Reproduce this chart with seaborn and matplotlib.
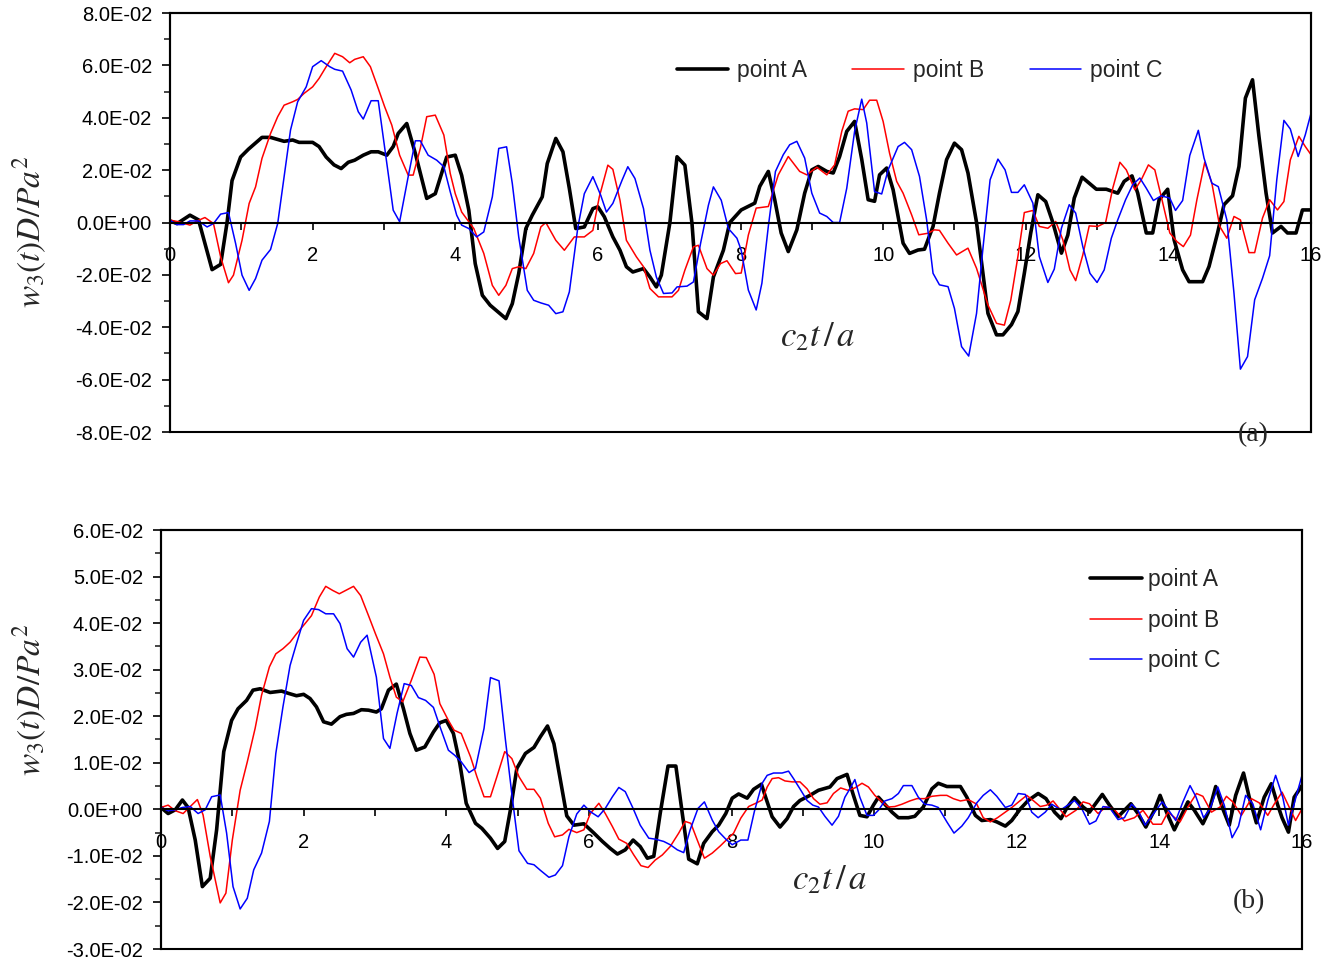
import numpy as np
import pandas as pd
import matplotlib
matplotlib.use("Agg")
import matplotlib.pyplot as plt
from matplotlib.ticker import MultipleLocator, FuncFormatter
from matplotlib.patches import Rectangle
from matplotlib.lines import Line2D
import seaborn as sns

# ---------------- data: (c2 t / a, w3(t) D / P a^2) ----------------
# Panel (a)
a_point_A = [
    (0, 0.0006), (0.1, -0.0004), (0.28, 0.0028), (0.4, 0.0010), (0.59, -0.0180), (0.71, -0.0160),
    (0.8, 0.0000), (0.87, 0.0160), (0.99, 0.0250), (1.1, 0.0280), (1.29, 0.0325), (1.41, 0.0325),
    (1.6, 0.0310), (1.72, 0.0315), (1.81, 0.0306), (2.0, 0.0306), (2.09, 0.0290), (2.19, 0.0250),
    (2.3, 0.0220), (2.4, 0.0206), (2.5, 0.0230), (2.59, 0.0238), (2.71, 0.0257), (2.82, 0.0270),
    (2.92, 0.0270), (3.04, 0.0257), (3.13, 0.0290), (3.2, 0.0340), (3.32, 0.0378), (3.44, 0.0264),
    (3.6, 0.0092), (3.72, 0.0110), (3.88, 0.0250), (4.0, 0.0257), (4.09, 0.0180), (4.19, 0.0047),
    (4.28, -0.0157), (4.38, -0.0278), (4.49, -0.0316), (4.71, -0.0367), (4.8, -0.0310), (4.89, -0.0195),
    (4.99, -0.0023), (5.08, 0.0028), (5.22, 0.0098), (5.29, 0.0225), (5.41, 0.0321), (5.51, 0.0270),
    (5.6, 0.0130), (5.69, -0.0023), (5.81, -0.0017), (5.93, 0.0053), (6.0, 0.0060), (6.09, 0.0022),
    (6.21, -0.0055), (6.31, -0.0106), (6.4, -0.0169), (6.49, -0.0189), (6.64, -0.0176), (6.73, -0.0208),
    (6.82, -0.0246), (6.89, -0.0201), (7.01, 0.0000), (7.11, 0.0251), (7.22, 0.0219), (7.32, -0.0004),
    (7.41, -0.0341), (7.53, -0.0367), (7.62, -0.0208), (7.76, -0.0106), (7.85, 0.0000), (8.01, 0.0048),
    (8.2, 0.0074), (8.27, 0.0138), (8.39, 0.0195), (8.48, 0.0087), (8.57, -0.0040), (8.67, -0.0111),
    (8.79, -0.0028), (8.9, 0.0112), (9.0, 0.0201), (9.09, 0.0214), (9.21, 0.0195), (9.3, 0.0189),
    (9.39, 0.0252), (9.49, 0.0348), (9.6, 0.0386), (9.7, 0.0241), (9.79, 0.0087), (9.88, 0.0081),
    (9.95, 0.0182), (10.05, 0.0208), (10.14, 0.0125), (10.28, -0.0079), (10.37, -0.0118), (10.49, -0.0105),
    (10.58, -0.0102), (10.7, -0.0015), (10.79, 0.0112), (10.89, 0.0240), (11.0, 0.0303), (11.1, 0.0278),
    (11.19, 0.0189), (11.31, 0.0000), (11.47, -0.0347), (11.59, -0.0429), (11.68, -0.0429), (11.8, -0.0390),
    (11.89, -0.0340), (11.98, -0.0194), (12.07, -0.0040), (12.17, 0.0106), (12.28, 0.0080), (12.38, 0.0000),
    (12.5, -0.0117), (12.59, -0.0048), (12.68, 0.0093), (12.79, 0.0173), (12.89, 0.0150), (12.99, 0.0127),
    (13.13, 0.0127), (13.29, 0.0112), (13.38, 0.0157), (13.49, 0.0178), (13.57, 0.0112), (13.69, -0.0040),
    (13.78, -0.0040), (13.87, 0.0087), (13.99, 0.0127), (14.08, -0.0066), (14.2, -0.0181), (14.29, -0.0226),
    (14.48, -0.0226), (14.57, -0.0168), (14.69, -0.0040), (14.78, 0.0068), (14.9, 0.0102), (14.99, 0.0214),
    (15.08, 0.0475), (15.18, 0.0545), (15.27, 0.0329), (15.37, 0.0112), (15.46, -0.0040), (15.58, -0.0015),
    (15.67, -0.0040), (15.79, -0.0040), (15.88, 0.0048), (16.0, 0.0048),
]

a_point_B = [
    (0, 0.0009), (0.12, 0.0003), (0.28, -0.0010), (0.38, 0.0006), (0.49, 0.0019), (0.61, -0.0004),
    (0.71, -0.0131), (0.82, -0.0230), (0.89, -0.0201), (1.01, -0.0068), (1.11, 0.0073), (1.2, 0.0136),
    (1.29, 0.0245), (1.41, 0.0340), (1.51, 0.0404), (1.6, 0.0448), (1.72, 0.0461), (1.79, 0.0470),
    (1.88, 0.0493), (2.0, 0.0518), (2.09, 0.0550), (2.19, 0.0595), (2.31, 0.0646), (2.42, 0.0633),
    (2.52, 0.0610), (2.59, 0.0623), (2.71, 0.0633), (2.81, 0.0595), (2.92, 0.0512), (3.01, 0.0442),
    (3.11, 0.0372), (3.22, 0.0257), (3.34, 0.0181), (3.41, 0.0181), (3.51, 0.0283), (3.6, 0.0404),
    (3.72, 0.0410), (3.84, 0.0334), (3.93, 0.0187), (4.0, 0.0110), (4.09, 0.0040), (4.26, -0.0023),
    (4.4, -0.0118), (4.52, -0.0240), (4.61, -0.0278), (4.71, -0.0240), (4.8, -0.0176), (4.89, -0.0169),
    (4.99, -0.0176), (5.1, -0.0118), (5.2, -0.0017), (5.27, 0.0000), (5.41, -0.0068), (5.53, -0.0106),
    (5.67, -0.0055), (5.81, -0.0055), (5.93, -0.0030), (6.02, 0.0098), (6.14, 0.0219), (6.21, 0.0203),
    (6.31, 0.0085), (6.4, -0.0068), (6.54, -0.0131), (6.64, -0.0169), (6.73, -0.0252), (6.85, -0.0284),
    (7.04, -0.0284), (7.13, -0.0259), (7.22, -0.0182), (7.34, -0.0093), (7.41, -0.0087), (7.53, -0.0176),
    (7.62, -0.0201), (7.72, -0.0157), (7.81, -0.0146), (7.93, -0.0195), (8.01, -0.0193), (8.11, -0.0048),
    (8.22, 0.0055), (8.39, 0.0061), (8.53, 0.0182), (8.67, 0.0252), (8.83, 0.0195), (8.93, 0.0182),
    (9.07, 0.0211), (9.21, 0.0182), (9.32, 0.0220), (9.42, 0.0348), (9.51, 0.0425), (9.6, 0.0434),
    (9.72, 0.0431), (9.81, 0.0467), (9.91, 0.0467), (10.0, 0.0386), (10.09, 0.0265), (10.19, 0.0157),
    (10.28, 0.0112), (10.4, 0.0029), (10.5, -0.0047), (10.63, -0.0041), (10.72, -0.0028), (10.79, -0.0030),
    (10.91, -0.0079), (11.03, -0.0124), (11.19, -0.0098), (11.31, -0.0175), (11.47, -0.0315), (11.59, -0.0385),
    (11.7, -0.0392), (11.79, -0.0297), (11.89, -0.0130), (11.98, 0.0038), (12.1, 0.0046), (12.19, -0.0015),
    (12.31, -0.0022), (12.42, 0.0004), (12.52, -0.0066), (12.62, -0.0181), (12.7, -0.0222), (12.8, -0.0124),
    (12.89, -0.0013), (13.01, -0.0015), (13.12, 0.0000), (13.22, 0.0131), (13.32, 0.0230), (13.41, 0.0201),
    (13.53, 0.0125), (13.62, 0.0163), (13.72, 0.0220), (13.81, 0.0201), (13.9, 0.0099), (14.02, -0.0040),
    (14.12, -0.0073), (14.21, -0.0092), (14.31, -0.0048), (14.4, 0.0087), (14.51, 0.0230), (14.61, 0.0150),
    (14.72, -0.0015), (14.82, -0.0060), (14.92, 0.0023), (15.01, 0.0010), (15.13, -0.0115), (15.21, -0.0115),
    (15.32, 0.0017), (15.42, 0.0087), (15.53, 0.0048), (15.62, 0.0080), (15.71, 0.0239), (15.83, 0.0329),
    (15.92, 0.0290), (16.0, 0.0259),
]

a_point_C = [
    (0, 0.0009), (0.09, -0.0008), (0.19, -0.0008), (0.28, 0.0006), (0.4, 0.0006), (0.52, -0.0017),
    (0.61, -0.0004), (0.71, 0.0032), (0.82, 0.0038), (0.92, -0.0080), (1.01, -0.0201), (1.11, -0.0259),
    (1.2, -0.0214), (1.29, -0.0144), (1.41, -0.0103), (1.51, -0.0004), (1.6, 0.0175), (1.69, 0.0353),
    (1.79, 0.0461), (1.91, 0.0518), (2.0, 0.0595), (2.12, 0.0618), (2.24, 0.0595), (2.31, 0.0585),
    (2.42, 0.0578), (2.54, 0.0506), (2.64, 0.0423), (2.71, 0.0395), (2.82, 0.0465), (2.92, 0.0465),
    (2.99, 0.0327), (3.06, 0.0187), (3.13, 0.0047), (3.22, 0.0003), (3.34, 0.0175), (3.44, 0.0312),
    (3.51, 0.0312), (3.62, 0.0257), (3.74, 0.0238), (3.84, 0.0213), (3.93, 0.0117), (4.02, 0.0028),
    (4.09, -0.0010), (4.19, -0.0023), (4.3, -0.0055), (4.4, -0.0036), (4.52, 0.0098), (4.61, 0.0283),
    (4.72, 0.0289), (4.8, 0.0149), (4.89, -0.0055), (5.01, -0.0259), (5.1, -0.0297), (5.2, -0.0307),
    (5.31, -0.0316), (5.41, -0.0348), (5.51, -0.0341), (5.6, -0.0265), (5.72, -0.0017), (5.81, 0.0110),
    (5.93, 0.0175), (6.04, 0.0104), (6.12, 0.0040), (6.21, 0.0073), (6.34, 0.0162), (6.42, 0.0213),
    (6.52, 0.0168), (6.64, 0.0053), (6.73, -0.0106), (6.82, -0.0208), (6.92, -0.0271), (7.04, -0.0269),
    (7.11, -0.0246), (7.25, -0.0243), (7.34, -0.0227), (7.44, -0.0080), (7.55, 0.0066), (7.62, 0.0136),
    (7.73, 0.0085), (7.83, -0.0023), (7.95, -0.0060), (8.01, -0.0106), (8.11, -0.0258), (8.22, -0.0334),
    (8.3, -0.0232), (8.39, -0.0015), (8.49, 0.0195), (8.6, 0.0259), (8.69, 0.0297), (8.79, 0.0310),
    (8.9, 0.0246), (9.0, 0.0112), (9.11, 0.0036), (9.21, 0.0023), (9.3, 0.0000), (9.39, 0.0000),
    (9.49, 0.0131), (9.6, 0.0348), (9.7, 0.0471), (9.77, 0.0380), (9.88, 0.0118), (9.98, 0.0109),
    (10.07, 0.0201), (10.21, 0.0290), (10.3, 0.0306), (10.4, 0.0278), (10.51, 0.0176), (10.61, 0.0010),
    (10.7, -0.0194), (10.79, -0.0238), (10.91, -0.0245), (11.0, -0.0328), (11.1, -0.0474), (11.2, -0.0510),
    (11.31, -0.0347), (11.4, -0.0098), (11.5, 0.0163), (11.61, 0.0242), (11.71, 0.0201), (11.8, 0.0115),
    (11.89, 0.0115), (11.98, 0.0144), (12.1, 0.0074), (12.19, -0.0130), (12.31, -0.0229), (12.4, -0.0178),
    (12.5, -0.0022), (12.61, 0.0068), (12.7, 0.0036), (12.8, -0.0092), (12.9, -0.0194), (13.0, -0.0229),
    (13.1, -0.0181), (13.2, -0.0060), (13.29, 0.0010), (13.4, 0.0087), (13.5, 0.0144), (13.6, 0.0170),
    (13.69, 0.0131), (13.79, 0.0084), (13.9, 0.0102), (14.02, 0.0093), (14.1, 0.0046), (14.2, 0.0084),
    (14.3, 0.0256), (14.42, 0.0352), (14.5, 0.0246), (14.61, 0.0150), (14.7, 0.0137), (14.82, 0.0010),
    (14.92, -0.0270), (15.01, -0.0560), (15.11, -0.0512), (15.21, -0.0295), (15.32, -0.0213), (15.42, -0.0127),
    (15.52, 0.0163), (15.62, 0.0390), (15.71, 0.0357), (15.82, 0.0252), (15.92, 0.0335), (16.0, 0.0417),
]

# Panel (b)
b_point_A = [
    (0, 0.0004), (0.1, -0.0009), (0.2, -0.0001), (0.3, 0.0020), (0.38, 0.0004), (0.48, -0.0066),
    (0.58, -0.0166), (0.69, -0.0148), (0.78, -0.0044), (0.88, 0.0124), (0.99, 0.0191), (1.08, 0.0216),
    (1.2, 0.0234), (1.29, 0.0256), (1.39, 0.0259), (1.53, 0.0251), (1.69, 0.0254), (1.79, 0.0249),
    (1.9, 0.0244), (2.0, 0.0247), (2.09, 0.0238), (2.18, 0.0220), (2.28, 0.0188), (2.39, 0.0183),
    (2.51, 0.0199), (2.6, 0.0204), (2.7, 0.0206), (2.81, 0.0214), (2.91, 0.0213), (3.02, 0.0209),
    (3.09, 0.0216), (3.19, 0.0256), (3.3, 0.0269), (3.4, 0.0216), (3.49, 0.0163), (3.58, 0.0127),
    (3.7, 0.0134), (3.82, 0.0166), (3.91, 0.0186), (4.0, 0.0191), (4.1, 0.0163), (4.19, 0.0099),
    (4.28, 0.0013), (4.41, -0.0030), (4.5, -0.0041), (4.62, -0.0062), (4.72, -0.0084), (4.82, -0.0069),
    (4.9, -0.0001), (4.99, 0.0088), (5.11, 0.0120), (5.23, 0.0133), (5.32, 0.0156), (5.42, 0.0179),
    (5.51, 0.0141), (5.6, 0.0063), (5.69, -0.0014), (5.79, -0.0034), (5.93, -0.0031), (6.07, -0.0051),
    (6.19, -0.0069), (6.3, -0.0084), (6.4, -0.0096), (6.51, -0.0087), (6.62, -0.0066), (6.72, -0.0080),
    (6.82, -0.0105), (6.91, -0.0101), (7.0, -0.0009), (7.11, 0.0093), (7.22, 0.0093), (7.31, -0.0009),
    (7.4, -0.0107), (7.52, -0.0117), (7.61, -0.0073), (7.73, -0.0048), (7.82, -0.0034), (7.92, -0.0009),
    (8.01, 0.0024), (8.1, 0.0033), (8.22, 0.0024), (8.31, 0.0043), (8.42, 0.0054), (8.47, 0.0030),
    (8.57, -0.0016), (8.68, -0.0038), (8.78, -0.0020), (8.87, 0.0006), (8.96, 0.0019), (9.1, 0.0030),
    (9.22, 0.0041), (9.38, 0.0048), (9.48, 0.0066), (9.62, 0.0075), (9.71, 0.0030), (9.8, -0.0013),
    (9.9, -0.0016), (9.99, 0.0009), (10.06, 0.0026), (10.15, 0.0011), (10.25, -0.0006), (10.34, -0.0018),
    (10.48, -0.0018), (10.57, -0.0015), (10.69, 0.0005), (10.81, 0.0044), (10.9, 0.0056), (11.02, 0.0049),
    (11.21, 0.0049), (11.3, 0.0026), (11.42, -0.0013), (11.51, -0.0024), (11.63, -0.0022), (11.72, -0.0027),
    (11.84, -0.0036), (11.93, -0.0024), (12.05, 0.0001), (12.16, 0.0019), (12.3, 0.0034), (12.41, 0.0023),
    (12.53, -0.0006), (12.62, -0.0020), (12.71, 0.0005), (12.81, 0.0025), (12.93, 0.0005), (13.02, -0.0006),
    (13.09, 0.0009), (13.2, 0.0032), (13.3, 0.0009), (13.42, -0.0016), (13.51, -0.0002), (13.6, 0.0012),
    (13.7, -0.0009), (13.81, -0.0038), (13.93, -0.0002), (14.01, 0.0030), (14.1, -0.0006), (14.21, -0.0044),
    (14.3, -0.0016), (14.4, 0.0016), (14.49, -0.0002), (14.61, -0.0031), (14.7, -0.0002), (14.79, 0.0049),
    (14.89, 0.0001), (14.98, -0.0034), (15.07, 0.0030), (15.18, 0.0078), (15.26, 0.0026), (15.36, -0.0029),
    (15.47, 0.0026), (15.57, 0.0055), (15.66, 0.0009), (15.72, -0.0018), (15.81, -0.0049), (15.89, 0.0026),
    (16.0, 0.0051),
]

b_point_B = [
    (0, 0.0004), (0.1, 0.0009), (0.2, -0.0003), (0.31, -0.0009), (0.41, 0.0006), (0.51, 0.0021),
    (0.59, -0.0012), (0.69, -0.0101), (0.83, -0.0201), (0.91, -0.0180), (1.0, -0.0066), (1.11, 0.0041),
    (1.21, 0.0102), (1.32, 0.0174), (1.41, 0.0245), (1.52, 0.0306), (1.61, 0.0334), (1.71, 0.0345),
    (1.81, 0.0359), (1.9, 0.0377), (2.02, 0.0399), (2.11, 0.0416), (2.22, 0.0456), (2.31, 0.0479),
    (2.41, 0.0470), (2.5, 0.0463), (2.6, 0.0471), (2.7, 0.0479), (2.8, 0.0459), (2.91, 0.0416),
    (3.01, 0.0376), (3.12, 0.0334), (3.21, 0.0284), (3.3, 0.0241), (3.39, 0.0231), (3.51, 0.0277),
    (3.63, 0.0327), (3.72, 0.0326), (3.83, 0.0290), (3.91, 0.0227), (4.03, 0.0191), (4.11, 0.0170),
    (4.21, 0.0163), (4.34, 0.0113), (4.43, 0.0070), (4.53, 0.0027), (4.62, 0.0027), (4.71, 0.0070),
    (4.82, 0.0124), (4.92, 0.0109), (5.02, 0.0070), (5.13, 0.0043), (5.23, 0.0043), (5.32, 0.0024),
    (5.43, -0.0030), (5.52, -0.0059), (5.63, -0.0055), (5.72, -0.0043), (5.83, -0.0050), (5.93, -0.0044),
    (6.02, -0.0009), (6.14, 0.0013), (6.23, -0.0009), (6.33, -0.0037), (6.42, -0.0064), (6.53, -0.0073),
    (6.63, -0.0098), (6.73, -0.0121), (6.83, -0.0125), (6.93, -0.0109), (7.03, -0.0098), (7.14, -0.0080),
    (7.26, -0.0051), (7.35, -0.0026), (7.43, -0.0030), (7.52, -0.0066), (7.62, -0.0105), (7.73, -0.0094),
    (7.84, -0.0079), (7.94, -0.0064), (8.03, -0.0051), (8.13, -0.0019), (8.24, 0.0006), (8.34, 0.0013),
    (8.43, 0.0020), (8.5, 0.0048), (8.57, 0.0066), (8.66, 0.0068), (8.75, 0.0061), (8.85, 0.0059),
    (8.96, 0.0059), (9.06, 0.0044), (9.15, 0.0023), (9.24, 0.0011), (9.34, 0.0014), (9.43, 0.0034),
    (9.53, 0.0046), (9.63, 0.0041), (9.73, 0.0046), (9.83, 0.0056), (9.92, 0.0048), (10.01, 0.0030),
    (10.11, 0.0016), (10.2, 0.0005), (10.29, 0.0006), (10.39, 0.0011), (10.5, 0.0018), (10.6, 0.0023),
    (10.71, 0.0023), (10.81, 0.0028), (10.93, 0.0030), (11.02, 0.0030), (11.11, 0.0023), (11.21, 0.0018),
    (11.32, 0.0021), (11.44, 0.0011), (11.53, -0.0018), (11.63, -0.0027), (11.73, -0.0018), (11.84, -0.0006),
    (11.94, 0.0005), (12.05, 0.0019), (12.14, 0.0030), (12.23, 0.0019), (12.33, 0.0006), (12.42, 0.0009),
    (12.51, 0.0018), (12.69, -0.0016), (12.83, -0.0002), (12.93, 0.0016), (13.02, 0.0012), (13.14, -0.0009),
    (13.25, 0.0005), (13.36, 0.0001), (13.51, -0.0025), (13.65, -0.0018), (13.77, -0.0002), (13.91, -0.0032),
    (14.03, -0.0032), (14.12, -0.0006), (14.29, -0.0027), (14.4, 0.0005), (14.52, 0.0034), (14.61, 0.0028),
    (14.73, -0.0006), (14.85, 0.0005), (14.94, 0.0028), (15.03, 0.0016), (15.15, -0.0013), (15.29, 0.0023),
    (15.4, 0.0014), (15.52, -0.0013), (15.61, 0.0011), (15.72, 0.0037), (15.82, 0.0005), (15.91, -0.0024),
    (16.0, 0.0001),
]

b_point_C = [
    (0, 0.0004), (0.1, -0.0003), (0.2, -0.0001), (0.3, 0.0004), (0.41, 0.0006), (0.52, -0.0009),
    (0.62, -0.0001), (0.71, 0.0027), (0.83, 0.0031), (0.92, -0.0051), (1.01, -0.0166), (1.11, -0.0214),
    (1.21, -0.0191), (1.3, -0.0130), (1.41, -0.0094), (1.52, -0.0026), (1.61, 0.0120), (1.71, 0.0220),
    (1.81, 0.0309), (1.9, 0.0356), (2.0, 0.0406), (2.11, 0.0431), (2.21, 0.0429), (2.31, 0.0420),
    (2.42, 0.0420), (2.51, 0.0399), (2.61, 0.0345), (2.7, 0.0327), (2.8, 0.0359), (2.89, 0.0374),
    (3.02, 0.0284), (3.12, 0.0152), (3.21, 0.0131), (3.31, 0.0206), (3.41, 0.0270), (3.51, 0.0266),
    (3.61, 0.0240), (3.71, 0.0234), (3.82, 0.0219), (3.92, 0.0174), (4.03, 0.0127), (4.12, 0.0116),
    (4.21, 0.0102), (4.32, 0.0079), (4.41, 0.0088), (4.53, 0.0174), (4.62, 0.0283), (4.74, 0.0276),
    (4.83, 0.0149), (4.93, 0.0020), (5.02, -0.0089), (5.14, -0.0116), (5.23, -0.0119), (5.32, -0.0131),
    (5.44, -0.0146), (5.53, -0.0141), (5.63, -0.0121), (5.72, -0.0059), (5.83, -0.0010), (5.93, 0.0009),
    (6.02, -0.0005), (6.13, -0.0016), (6.23, 0.0002), (6.33, 0.0027), (6.42, 0.0047), (6.51, 0.0038),
    (6.62, 0.0002), (6.72, -0.0034), (6.84, -0.0062), (6.93, -0.0064), (7.05, -0.0069), (7.14, -0.0076),
    (7.24, -0.0087), (7.33, -0.0093), (7.42, -0.0044), (7.53, 0.0002), (7.62, 0.0016), (7.73, -0.0023),
    (7.82, -0.0048), (7.92, -0.0064), (8.01, -0.0076), (8.13, -0.0066), (8.23, -0.0066), (8.32, -0.0005),
    (8.43, 0.0056), (8.5, 0.0073), (8.59, 0.0078), (8.71, 0.0078), (8.8, 0.0082), (8.87, 0.0066),
    (8.96, 0.0044), (9.06, 0.0019), (9.14, 0.0009), (9.22, 0.0005), (9.31, -0.0015), (9.41, -0.0034),
    (9.5, -0.0015), (9.59, 0.0026), (9.66, 0.0044), (9.73, 0.0064), (9.8, 0.0026), (9.9, -0.0013),
    (9.99, -0.0013), (10.06, -0.0002), (10.15, 0.0018), (10.25, 0.0023), (10.34, 0.0034), (10.41, 0.0051),
    (10.53, 0.0051), (10.62, 0.0026), (10.71, 0.0011), (10.81, 0.0009), (10.9, 0.0004), (11.02, -0.0027),
    (11.12, -0.0051), (11.23, -0.0036), (11.32, -0.0018), (11.44, 0.0014), (11.53, 0.0030), (11.63, 0.0042),
    (11.72, 0.0028), (11.84, 0.0004), (11.93, 0.0009), (12.02, 0.0034), (12.12, 0.0032), (12.21, -0.0006),
    (12.3, -0.0018), (12.4, -0.0006), (12.49, 0.0011), (12.62, -0.0001), (12.81, 0.0019), (12.92, -0.0001),
    (13.02, -0.0032), (13.11, -0.0025), (13.21, 0.0006), (13.3, 0.0004), (13.42, -0.0022), (13.51, -0.0018),
    (13.61, 0.0011), (13.7, -0.0002), (13.8, -0.0034), (13.91, -0.0011), (14.04, 0.0016), (14.13, -0.0002),
    (14.23, -0.0024), (14.33, 0.0016), (14.43, 0.0051), (14.51, 0.0028), (14.62, -0.0018), (14.71, 0.0001),
    (14.82, 0.0048), (14.91, 0.0009), (15.02, -0.0061), (15.11, -0.0036), (15.21, 0.0030), (15.31, 0.0012),
    (15.42, -0.0044), (15.52, 0.0019), (15.63, 0.0073), (15.73, 0.0026), (15.81, -0.0034), (15.91, 0.0023),
    (16.0, 0.0073),
]

series_names = ["point A", "point B", "point C"]
series_colors = {"point A": "#000000", "point B": "#ff0000", "point C": "#0000ff"}
series_widths = {"point A": 2.6, "point B": 1.1, "point C": 1.1}

x_ticks = [0, 2, 4, 6, 8, 10, 12, 14, 16]
ylim_a = (-0.08, 0.08)
ylim_b = (-0.03, 0.06)

# ---------------- style ----------------
sns.set_style("ticks")
plt.rcParams["font.family"] = ["Liberation Sans", "DejaVu Sans"]
plt.rcParams["mathtext.fontset"] = "stix"

W, H = 1333, 963
fig = plt.figure(figsize=(W / 100, H / 100), dpi=100)
fig.patch.set_facecolor("white")


def frame(px_left, px_top, px_right, px_bottom):
    return [px_left / W, 1 - px_bottom / H, (px_right - px_left) / W, (px_bottom - px_top) / H]


ax_a = fig.add_axes(frame(170, 13, 1311, 432))
ax_b = fig.add_axes(frame(161, 530, 1302, 949))


def to_frame(pairs, name):
    df = pd.DataFrame(pairs, columns=["t", "w"])
    df["point"] = name
    return df


def sci_label(v, _pos):
    v = round(v, 8)
    if abs(v) < 1e-12:
        v = 0.0
    return f"{v:.1E}"


def draw_panel(ax, data, ylim, ystep):
    for name, pairs in zip(series_names, data):
        df = to_frame(pairs, name)
        sns.lineplot(data=df, x="t", y="w", ax=ax, color=series_colors[name],
                     linewidth=series_widths[name], sort=False, estimator=None,
                     legend=False)
    ax.set_xlim(0, 16)
    ax.set_ylim(*ylim)
    ax.set_xlabel("")
    ax.set_ylabel("")
    ax.set_facecolor("white")

    # x axis drawn through y = 0
    ax.spines["bottom"].set_position(("data", 0))
    for s in ["left", "top", "right", "bottom"]:
        ax.spines[s].set_linewidth(1.5)
        ax.spines[s].set_color("black")
    ax.add_patch(Rectangle((0, 0), 1, 1, transform=ax.transAxes, fill=False,
                           lw=1.5, ec="black", clip_on=False, zorder=3))

    ax.set_xticks(x_ticks)
    ax.set_xticklabels([str(v) for v in x_ticks])
    ax.xaxis.set_minor_locator(MultipleLocator(1))
    ax.tick_params(axis="x", which="both", direction="out", length=5, width=1.2,
                   pad=12, labelsize=14.5, colors="black")

    ax.yaxis.set_major_locator(MultipleLocator(ystep))
    ax.yaxis.set_minor_locator(MultipleLocator(ystep / 2))
    ax.yaxis.set_major_formatter(FuncFormatter(sci_label))
    ax.tick_params(axis="y", which="major", direction="out", length=6, width=1.2,
                   pad=7, labelsize=14.5, colors="black")
    ax.tick_params(axis="y", which="minor", direction="out", length=4, width=1.2)


draw_panel(ax_a, [a_point_A, a_point_B, a_point_C], ylim_a, 0.02)
draw_panel(ax_b, [b_point_A, b_point_B, b_point_C], ylim_b, 0.01)

handles = [Line2D([], [], color=series_colors[n], lw=series_widths[n]) for n in series_names]

ax_a.legend(handles, series_names, loc="center left", bbox_to_anchor=(0.444, 0.8616),
            ncol=3, frameon=False, fontsize=16.5, handlelength=2.25, handletextpad=0.4,
            columnspacing=1.97, borderpad=0, borderaxespad=0)
ax_b.legend(handles, series_names, loc="upper left", bbox_to_anchor=(0.8144, 0.909),
            ncol=1, frameon=False, fontsize=16.5, handlelength=2.25, handletextpad=0.28,
            labelspacing=0.76, borderpad=0, borderaxespad=0)

# axis titles
ylab = r"$w_3(t)D/Pa^2$"
xlab = r"$c_2t\,/\,a$"
fig.text(30 / W, 1 - 232 / H, ylab, rotation=90, ha="center", va="center", fontsize=24)
fig.text(30 / W, 1 - 700 / H, ylab, rotation=90, ha="center", va="center", fontsize=24)
fig.text(818 / W, 1 - 337 / H, xlab, ha="center", va="center", fontsize=25)
fig.text(830 / W, 1 - 880 / H, xlab, ha="center", va="center", fontsize=25)
fig.text(1253 / W, 1 - 435 / H, "(a)", ha="center", va="center", fontsize=20,
         family="Liberation Serif")
fig.text(1249 / W, 1 - 902 / H, "(b)", ha="center", va="center", fontsize=20,
         family="Liberation Serif")

fig.savefig("out.png", dpi=100, facecolor="white")
